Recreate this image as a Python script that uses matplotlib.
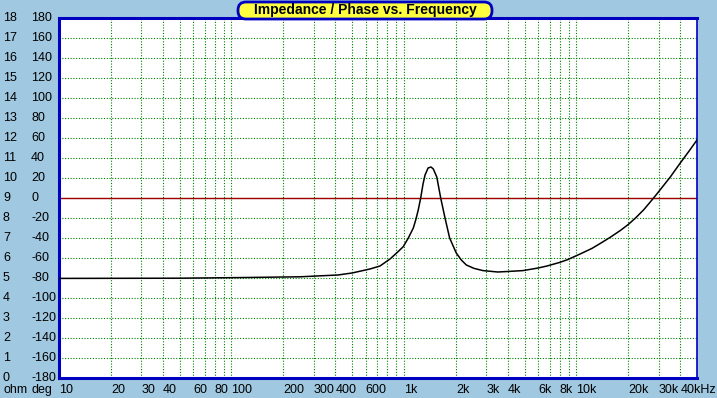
import numpy as np
import matplotlib.pyplot as plt
from matplotlib.patches import FancyBboxPatch
from matplotlib.transforms import blended_transform_factory, IdentityTransform

# frequency (Hz) vs impedance (ohm)
freq = [10, 50, 110, 250, 414, 500, 635, 726, 830, 920, 991, 1060, 1133, 1170,
        1210, 1250, 1290, 1325, 1380, 1435, 1480, 1550, 1633, 1730, 1840, 2010,
        2150, 2300, 2550, 2870, 3500, 3880, 4900, 6000, 6750, 8000, 8900, 10500,
        12300, 13700, 15600, 18000, 20000, 22000, 24600, 27700, 30000, 35000,
        40000, 45000, 50000]
ohm = [4.98, 4.99, 5.02, 5.06, 5.15, 5.25, 5.45, 5.6, 5.95, 6.3, 6.57, 7.0, 7.5, 7.9,
       8.4, 9.0, 9.7, 10.15, 10.5, 10.55, 10.45, 10.05, 9.0, 8.0, 7.0, 6.25,
       5.9, 5.65, 5.48, 5.37, 5.3, 5.32, 5.37, 5.5, 5.6, 5.78, 5.92, 6.2,
       6.48, 6.72, 7.02, 7.38, 7.68, 8.0, 8.42, 8.95, 9.32, 10.05,
       10.75, 11.35, 11.9]

ohm_ticks = list(range(0, 19))
deg_ticks = list(range(-180, 181, 20))
xlab_pos = [10, 20, 30, 40, 60, 80, 100, 200, 300, 400, 600, 1000, 2000, 3000,
            4000, 6000, 8000, 10000, 20000, 30000, 40000]
xlab_txt = ['10', '20', '30', '40', '60', '80', '100', '200', '300', '400', '600',
            '1k', '2k', '3k', '4k', '6k', '8k', '10k', '20k', '30k', '40kHz']

bg = '#A0C8E0'
grid_c = '#008000'
blue = '#0000C0'
plt.rcParams['font.family'] = ['Liberation Sans', 'DejaVu Sans']

fig = plt.figure(figsize=(7.17, 3.98), dpi=100, facecolor=bg)
ax = fig.add_axes([59 / 717, 20 / 398, 638 / 717, 360 / 398])
ax.set_xscale('log')
ax.set_xlim(10, 50000)
ax.set_ylim(0, 18)
ax.set_xticks([])
ax.set_yticks([])
ax.minorticks_off()

# grid
for y in ohm_ticks[1:-1]:
    ax.axhline(y, color=grid_c, lw=0.8, ls=(0, (1, 1.5)), zorder=1)
vlines = [m * 10 ** e for e in range(1, 5) for m in range(1, 10)]
for v in vlines:
    if 10 < v < 50000:
        ax.axvline(v, color=grid_c, lw=0.8, ls=(0, (1, 1.5)), zorder=1)
ax.axhline(9, color='#A00000', lw=1.0, zorder=2)

ax.plot(freq, ohm, color='black', lw=1.1, zorder=3)

for s in ['left', 'bottom', 'top']:
    ax.spines[s].set_color(blue)
    ax.spines[s].set_linewidth(2.2)
ax.spines['right'].set_color(blue)
ax.spines['right'].set_linewidth(1.2)

# y labels (ohm and deg columns)
ty = blended_transform_factory(fig.transFigure, ax.transData)
for o, d in zip(ohm_ticks, deg_ticks):
    fig.text(3 / 717, o, str(o), transform=ty, va='center', ha='left', fontsize=9)
    fig.text(31 / 717, o, str(d), transform=ty, va='center', ha='left', fontsize=9)
fig.text(4 / 717, 1 - 390 / 398, 'ohm', va='center', ha='left', fontsize=9)
fig.text(31 / 717, 1 - 390 / 398, 'deg', va='center', ha='left', fontsize=9)

# x labels
tx = blended_transform_factory(ax.transData, fig.transFigure)
for p, t in zip(xlab_pos, xlab_txt):
    ax.text(p, 1 - 390 / 398, t, transform=tx, va='center', ha='left', fontsize=9,
            clip_on=False)

# title box
box = FancyBboxPatch((238, 398 - 19), 254, 17,
                     boxstyle='round,pad=0,rounding_size=8',
                     fc='#FFFF40', ec=blue, lw=2, transform=IdentityTransform())
fig.add_artist(box)
fig.text(365 / 717, 1 - 10 / 398, 'Impedance / Phase vs. Frequency', ha='center',
         va='center', fontsize=10, fontweight='bold')

fig.savefig('out.png', dpi=100, facecolor=bg)
